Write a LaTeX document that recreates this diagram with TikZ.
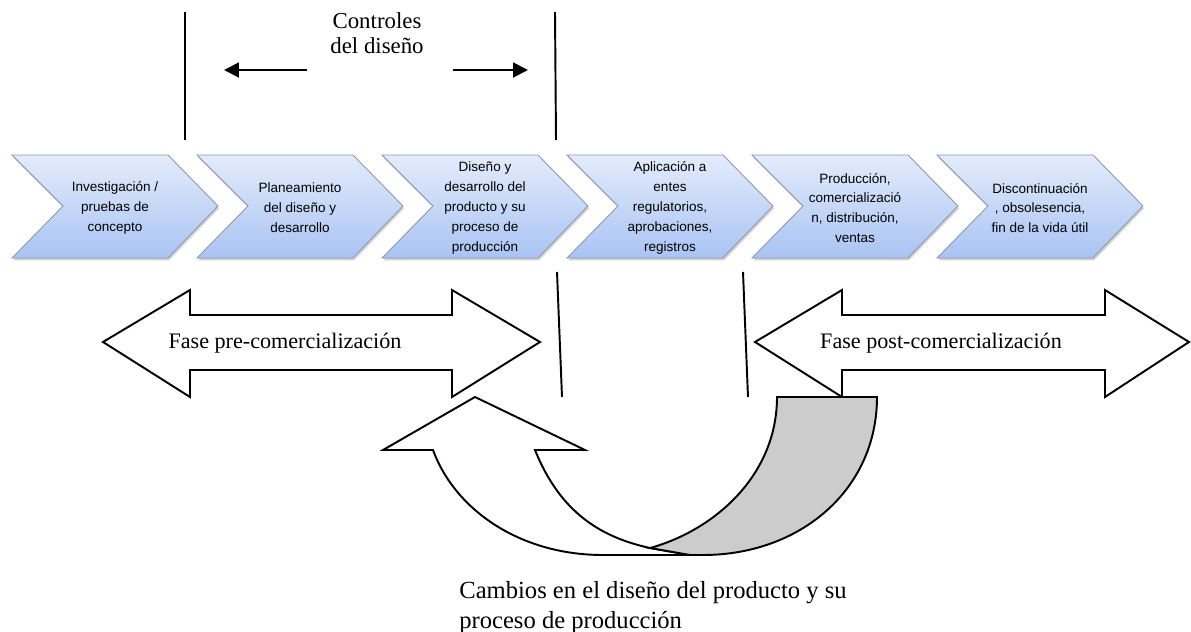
\documentclass[tikz,border=0pt]{standalone}
\usepackage{fontspec}
\setmainfont{Liberation Serif}
\setsansfont{Liberation Sans}
\usetikzlibrary{shadows,arrows.meta}

\definecolor{chevtop}{HTML}{E3ECFB}
\definecolor{chevbot}{HTML}{A9C3F3}
\definecolor{chevline}{HTML}{8D99AA}
\definecolor{loopgray}{HTML}{CCCCCC}

\tikzset{
  chevron/.style={draw=chevline, line width=0.5pt, top color=chevtop, bottom color=chevbot,
    drop shadow={shadow xshift=0.6pt, shadow yshift=-1.4pt, opacity=0.35}},
  steptext/.style={font=\sffamily\fontsize{7.7}{11.3}\selectfont, align=center, inner sep=0pt},
  bigarrow/.style={draw=black, line width=1.1pt, fill=white, line join=miter},
  bar/.style={line width=1.1pt},
  phase/.style={font=\fontsize{12.6}{15}\selectfont, inner sep=0pt},
  caption/.style={font=\fontsize{14}{17}\selectfont, inner sep=0pt}
}

\begin{document}
\begin{tikzpicture}[x=0.02cm, y=-0.02cm]

\useasboundingbox (0,0) rectangle (1191,632);

% stages
\foreach \L/\name/\txt in {
    12/inv/{Investigación /\\pruebas de\\concepto},
    197/plan/{Planeamiento\\del diseño y\\desarrollo},
    382/dis/{Diseño y\\desarrollo del\\producto y su\\proceso de\\producción},
    567/apl/{Aplicación a\\entes\\regulatorios,\\aprobaciones,\\registros},
    752/prod/{Producción,\\comercializació\\n, distribución,\\ventas},
    937/disc/{Discontinuación\\, obsolesencia,\\fin de la vida útil}}
{
    \path[chevron] (\L,155) -- (\L+156,155) -- (\L+206,206) -- (\L+156,258)
        -- (\L,258) -- (\L+51,206) -- cycle;
    \node[steptext] (\name) at (\L+103,208) {\txt};
}

% design controls
\coordinate (c1t) at (185,12);
\coordinate (c1b) at (185,140);
\coordinate (c2t) at (555,12);
\coordinate (c2b) at (556,140);
\draw[bar] (c1t) -- (c1b);
\draw[bar] (c2t) -- (c2b);

\node[font=\fontsize{13}{14.2}\selectfont, align=center, inner sep=0pt] (ctrl) at (377,33) {Controles\\del diseño};

\coordinate (la) at (307,70);
\coordinate (lb) at (224,70);
\coordinate (ra) at (453,70);
\coordinate (rb) at (528,70);
\draw[bar, -{Triangle[length=8.5pt, width=8.5pt]}] (la) -- (lb);
\draw[bar, -{Triangle[length=8.5pt, width=8.5pt]}] (ra) -- (rb);

% phase limits
\coordinate (c3t) at (557,272);
\coordinate (c3b) at (562,397);
\coordinate (c4t) at (743,272);
\coordinate (c4b) at (748,397);
\draw[bar] (c3t) -- (c3b);
\draw[bar] (c4t) -- (c4b);

% phases
\path[bigarrow] (103,342) -- (190,290) -- (190,315) -- (452,315) -- (452,290) -- (540,342)
    -- (452,397) -- (452,370) -- (190,370) -- (190,397) -- cycle;
\node[phase] (pre) at (285,343) {Fase pre-comercialización};

\path[bigarrow] (755,342) -- (842,290) -- (842,315) -- (1105,315) -- (1105,290) -- (1189,342)
    -- (1105,397) -- (1105,370) -- (842,370) -- (842,397) -- cycle;
\node[phase] (post) at (941,343) {Fase post-comercialización};

% changes loop
\path[bigarrow] (475,397) -- (585,450) -- (535,450)
    .. controls (560,512) and (600,537) .. (650,548) -- (690,555) -- (603,555)
    .. controls (520,555) and (455,510) .. (433,450) -- (383,450) -- cycle;
\path[bigarrow, fill=loopgray] (777,397) -- (877,397)
    .. controls (877,490) and (800,555) .. (703,555) -- (690,555) -- (650,548)
    .. controls (715,530) and (777,475) .. (777,397) -- cycle;

\node[caption, align=left, anchor=north west] (chg) at (459,581)
    {Cambios en el diseño del producto y su\\proceso de producción};

\end{tikzpicture}
\end{document}
